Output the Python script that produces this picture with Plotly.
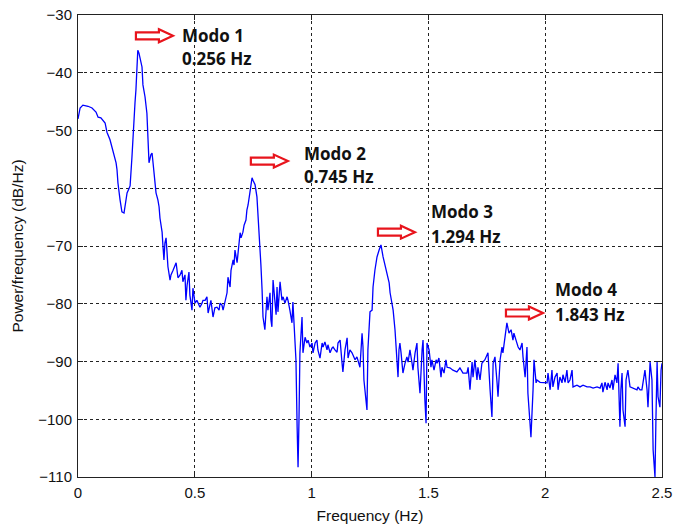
import plotly.graph_objects as go

# Welch PSD estimate of the measured response (frequency in Hz, PSD in dB/Hz)
freq = [
    0.000, 0.009, 0.021, 0.043, 0.060, 0.077, 0.086, 0.098, 0.116, 0.124, 0.137, 0.150,
    0.163, 0.167, 0.171, 0.180, 0.188, 0.197, 0.201, 0.210, 0.218, 0.223, 0.231, 0.235,
    0.244, 0.248, 0.253, 0.256, 0.261, 0.265, 0.274, 0.278, 0.287, 0.295, 0.300, 0.304,
    0.312, 0.317, 0.321, 0.330, 0.334, 0.342, 0.347, 0.351, 0.360, 0.364, 0.368, 0.372,
    0.377, 0.381, 0.385, 0.394, 0.398, 0.407, 0.415, 0.420, 0.428, 0.437, 0.445, 0.449,
    0.458, 0.462, 0.467, 0.475, 0.479, 0.488, 0.492, 0.501, 0.509, 0.518, 0.522, 0.531,
    0.535, 0.544, 0.552, 0.557, 0.565, 0.569, 0.578, 0.586, 0.595, 0.604, 0.608, 0.616,
    0.621, 0.629, 0.638, 0.642, 0.651, 0.655, 0.664, 0.668, 0.672, 0.681, 0.685, 0.694,
    0.698, 0.706, 0.711, 0.719, 0.723, 0.728, 0.736, 0.745, 0.749, 0.758, 0.766, 0.771,
    0.775, 0.783, 0.788, 0.792, 0.800, 0.805, 0.809, 0.813, 0.822, 0.826, 0.830, 0.835,
    0.843, 0.848, 0.852, 0.856, 0.865, 0.873, 0.878, 0.886, 0.895, 0.899, 0.907, 0.916,
    0.920, 0.929, 0.933, 0.938, 0.942, 0.946, 0.950, 0.959, 0.963, 0.972, 0.980, 0.985,
    0.993, 1.002, 1.006, 1.015, 1.023, 1.027, 1.036, 1.045, 1.049, 1.057, 1.066, 1.070,
    1.079, 1.087, 1.092, 1.100, 1.109, 1.113, 1.122, 1.130, 1.134, 1.143, 1.152, 1.156,
    1.164, 1.173, 1.177, 1.186, 1.194, 1.199, 1.207, 1.216, 1.220, 1.224, 1.233, 1.237,
    1.241, 1.246, 1.250, 1.259, 1.263, 1.271, 1.280, 1.289, 1.293, 1.297, 1.306, 1.314,
    1.323, 1.332, 1.336, 1.344, 1.349, 1.357, 1.361, 1.366, 1.370, 1.374, 1.378, 1.383,
    1.387, 1.391, 1.400, 1.408, 1.413, 1.421, 1.430, 1.434, 1.443, 1.451, 1.455, 1.464,
    1.473, 1.477, 1.485, 1.490, 1.494, 1.503, 1.511, 1.515, 1.524, 1.533, 1.537, 1.545,
    1.554, 1.558, 1.567, 1.575, 1.580, 1.592, 1.605, 1.622, 1.635, 1.648, 1.665, 1.670,
    1.678, 1.687, 1.691, 1.699, 1.708, 1.712, 1.721, 1.729, 1.742, 1.755, 1.764, 1.772,
    1.777, 1.785, 1.794, 1.798, 1.807, 1.815, 1.819, 1.828, 1.836, 1.845, 1.854, 1.862,
    1.866, 1.875, 1.884, 1.892, 1.901, 1.905, 1.914, 1.922, 1.926, 1.935, 1.939, 1.948,
    1.952, 1.961, 1.965, 1.978, 1.991, 2.008, 2.012, 2.021, 2.029, 2.033, 2.042, 2.051,
    2.055, 2.063, 2.072, 2.076, 2.085, 2.093, 2.098, 2.106, 2.115, 2.119, 2.136, 2.149,
    2.162, 2.179, 2.192, 2.205, 2.222, 2.235, 2.243, 2.247, 2.256, 2.265, 2.269, 2.277,
    2.286, 2.290, 2.299, 2.307, 2.312, 2.320, 2.324, 2.329, 2.333, 2.342, 2.346, 2.354,
    2.363, 2.376, 2.393, 2.397, 2.406, 2.414, 2.419, 2.427, 2.436, 2.440, 2.449, 2.457,
    2.462, 2.466, 2.470, 2.474, 2.479, 2.483, 2.491, 2.496, 2.500,
]
psd_db = [
    -48.0, -46.1, -45.6, -45.8, -46.1, -46.8, -47.7, -47.8, -48.7, -50.3, -51.6, -53.7,
    -55.6, -56.8, -59.1, -62.0, -64.1, -64.3, -63.4, -60.8, -60.1, -59.6, -54.6, -50.8,
    -45.2, -43.0, -37.8, -36.1, -36.6, -37.4, -39.0, -42.1, -44.2, -47.0, -51.6, -55.6,
    -54.2, -53.9, -55.5, -58.6, -60.8, -62.0, -63.2, -65.2, -67.6, -70.2, -72.4, -69.5,
    -68.6, -71.0, -73.6, -75.9, -75.0, -74.2, -73.3, -72.9, -75.5, -75.0, -74.2, -76.2,
    -75.0, -79.4, -76.8, -74.5, -78.5, -81.1, -77.3, -79.9, -79.4, -80.2, -80.6, -79.9,
    -79.4, -79.4, -78.8, -81.6, -80.2, -79.4, -82.3, -80.7, -80.6, -81.1, -79.9, -80.2,
    -81.1, -79.4, -78.1, -75.4, -77.1, -74.2, -72.4, -73.3, -70.7, -72.9, -71.2, -67.7,
    -68.6, -67.6, -66.4, -65.5, -63.8, -62.9, -60.7, -58.2, -58.6, -59.4, -61.5, -64.6,
    -69.0, -73.3, -77.6, -82.3, -84.5, -81.9, -78.8, -81.1, -78.1, -82.8, -84.0, -75.9,
    -79.9, -81.9, -77.1, -81.4, -76.2, -79.4, -78.8, -79.9, -78.8, -79.4, -81.1, -83.3,
    -79.7, -86.3, -89.7, -101.3, -108.3, -100.1, -88.5, -82.3, -88.5, -85.8, -86.8, -86.3,
    -87.5, -86.8, -88.5, -86.8, -86.3, -88.0, -89.4, -86.8, -87.5, -86.6, -88.0, -87.1,
    -88.5, -87.7, -87.5, -88.0, -88.4, -86.8, -86.3, -90.1, -91.8, -88.0, -85.9, -89.4,
    -88.0, -88.5, -88.9, -89.7, -89.2, -90.1, -91.0, -85.1, -87.5, -93.2, -96.1, -98.4,
    -88.0, -85.1, -81.4, -81.1, -77.1, -74.2, -71.9, -70.7, -70.0, -69.8, -71.9, -73.3,
    -74.7, -76.4, -78.1, -80.2, -81.1, -84.5, -87.1, -89.7, -92.7, -88.0, -86.8, -88.5,
    -91.0, -92.0, -90.3, -89.2, -90.1, -88.0, -90.3, -91.5, -88.5, -86.8, -91.0, -95.5,
    -88.0, -86.3, -96.7, -100.7, -86.8, -88.0, -91.0, -89.7, -91.5, -89.7, -90.3, -89.4,
    -92.7, -91.0, -92.0, -89.7, -91.0, -91.1, -91.5, -91.8, -91.1, -92.0, -92.0, -91.0,
    -94.9, -90.1, -92.7, -89.7, -93.2, -91.0, -93.2, -90.3, -89.7, -88.5, -94.9, -99.6,
    -90.3, -89.2, -93.7, -96.1, -89.7, -87.5, -88.5, -85.8, -83.3, -85.1, -84.5, -86.3,
    -85.1, -86.3, -87.5, -88.0, -86.8, -89.2, -92.7, -87.5, -95.5, -100.7, -103.1, -94.9,
    -89.7, -93.7, -93.2, -93.6, -93.6, -93.7, -92.0, -94.9, -91.5, -94.4, -92.7, -92.0,
    -94.9, -92.7, -93.7, -92.3, -93.6, -91.5, -93.7, -93.2, -91.5, -94.4, -94.1, -94.4,
    -94.1, -94.4, -94.4, -94.6, -94.4, -94.6, -93.7, -95.3, -93.6, -94.9, -93.7, -94.6,
    -93.2, -94.9, -92.3, -93.7, -90.3, -101.3, -94.9, -92.0, -98.4, -101.3, -93.2, -91.5,
    -94.4, -94.6, -94.9, -94.4, -94.9, -94.9, -93.7, -91.5, -94.9, -97.9, -90.1, -93.2,
    -105.3, -108.8, -110.0, -100.1, -90.1, -96.1, -97.9, -91.5, -90.3,
]

# Identified modes and where their callouts sit (arrow tail, text left edge)
mode_names = ["Modo 1", "Modo 2", "Modo 3", "Modo 4"]
mode_freq_labels = ["0.256 Hz", "0.745 Hz", "1.294 Hz", "1.843 Hz"]
arrow_f = [0.248, 0.740, 1.284, 1.832]
arrow_db = [-33.6, -55.3, -67.6, -81.6]
text_f = [0.437, 0.959, 1.503, 2.033]
text_db_top = [-33.6, -53.9, -64.1, -77.6]
text_db_bot = [-37.6, -57.9, -68.4, -81.8]

x_ticks = [0, 0.5, 1, 1.5, 2, 2.5]
x_tick_text = ["0", "0.5", "1", "1.5", "2", "2.5"]
y_ticks = [-110, -100, -90, -80, -70, -60, -50, -40, -30]

fig = go.Figure()
fig.add_trace(go.Scatter(
    x=freq, y=psd_db, mode="lines",
    line=dict(color="#0000ff", width=1.3),
    showlegend=False, hoverinfo="x+y",
))

# Hollow red block arrow, drawn in pixels around its data anchor
arrow_path = "M0,-3.5 L23,-3.5 L23,-6.5 L37,0 L23,6.5 L23,3.5 L0,3.5 Z"
label_font = dict(family="Open Sans, Noto Sans, sans-serif", size=17, color="#111111")
for i in range(len(mode_names)):
    fig.add_shape(
        type="path", xref="x", yref="y",
        xsizemode="pixel", ysizemode="pixel",
        xanchor=arrow_f[i], yanchor=arrow_db[i],
        path=arrow_path,
        line=dict(color="#e8141c", width=2.2),
        fillcolor="white", layer="above",
    )
    fig.add_annotation(
        x=text_f[i], y=text_db_top[i], xref="x", yref="y",
        text="<b>%s</b>" % mode_names[i], showarrow=False,
        xanchor="left", yanchor="middle", font=label_font,
    )
    fig.add_annotation(
        x=text_f[i], y=text_db_bot[i], xref="x", yref="y",
        text="<b>%s</b>" % mode_freq_labels[i], showarrow=False,
        xanchor="left", yanchor="middle", font=label_font,
    )

tick_font = dict(family="Liberation Sans, Arial, sans-serif", size=15, color="#111111")
title_font = dict(family="Liberation Sans, Arial, sans-serif", size=15.5, color="#111111")
fig.update_layout(
    width=674, height=527,
    margin=dict(l=78, r=12, t=15, b=50),
    paper_bgcolor="white", plot_bgcolor="white",
    font=tick_font,
    xaxis=dict(
        range=[0, 2.5], tickvals=x_ticks, ticktext=x_tick_text,
        automargin=False,
        showline=True, linecolor="#222222", linewidth=1, mirror="ticks",
        ticks="inside", ticklen=5, tickcolor="#222222", ticklabelstandoff=2,
        showgrid=True, gridcolor="#222222", gridwidth=1, griddash="3px,3px",
        zeroline=False,
        title=dict(text="Frequency (Hz)", font=title_font, standoff=10),
        tickfont=tick_font,
    ),
    yaxis=dict(
        range=[-110, -30], tickvals=y_ticks,
        automargin=False,
        showline=True, linecolor="#222222", linewidth=1, mirror="ticks",
        ticks="inside", ticklen=5, tickcolor="#222222", ticklabelstandoff=2,
        showgrid=True, gridcolor="#222222", gridwidth=1, griddash="3px,3px",
        zeroline=False,
        title=dict(text="Power/frequency (dB/Hz)", font=title_font, standoff=10),
        tickfont=tick_font,
    ),
)

fig.write_html("out.html")
